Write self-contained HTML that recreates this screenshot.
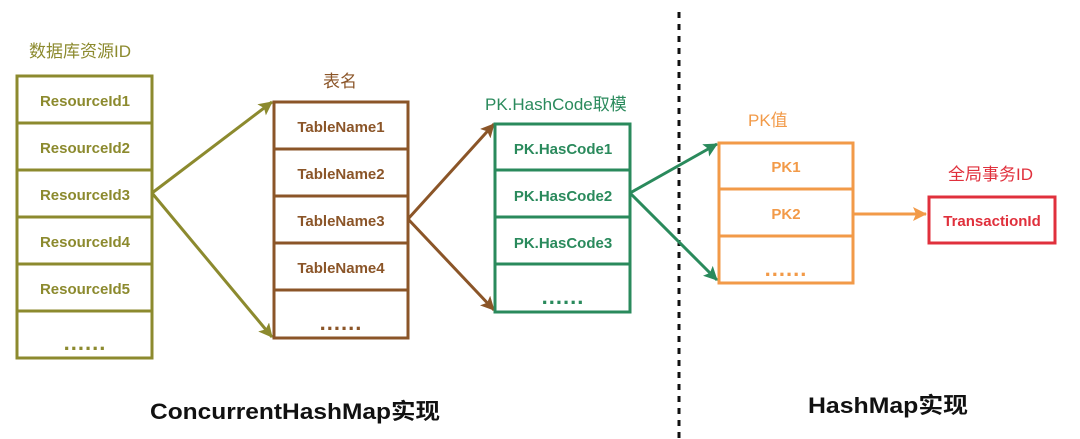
<!DOCTYPE html>
<html><head><meta charset="utf-8"><style>
html,body{margin:0;padding:0;background:#fff;width:1080px;height:439px;overflow:hidden}
text{font-family:"Liberation Sans","Noto Sans CJK SC",sans-serif}
</style></head><body>
<svg width="1080" height="439" viewBox="0 0 1080 439" xmlns="http://www.w3.org/2000/svg">
<defs>
<marker id="ao" markerWidth="14" markerHeight="14" refX="13" refY="7" orient="auto" markerUnits="userSpaceOnUse"><path d="M0,0 L14,7 L0,14 L3,7 z" fill="#8c8a2e"/></marker>
<marker id="ab" markerWidth="14" markerHeight="14" refX="13" refY="7" orient="auto" markerUnits="userSpaceOnUse"><path d="M0,0 L14,7 L0,14 L3,7 z" fill="#8b5528"/></marker>
<marker id="ag" markerWidth="14" markerHeight="14" refX="13" refY="7" orient="auto" markerUnits="userSpaceOnUse"><path d="M0,0 L14,7 L0,14 L3,7 z" fill="#2a8a5c"/></marker>
<marker id="ar" markerWidth="14" markerHeight="14" refX="13" refY="7" orient="auto" markerUnits="userSpaceOnUse"><path d="M0,0 L14,7 L0,14 L3,7 z" fill="#f29a48"/></marker>
</defs>
<line x1="679" y1="12" x2="679" y2="439" stroke="#111" stroke-width="3" stroke-dasharray="6,6"/>
<!-- Resource -->
<text x="29" y="57" font-size="17" fill="#8c8a2e">数据库资源ID</text>
<g stroke="#8c8a2e" stroke-width="3" fill="none">
<rect x="17" y="76" width="135" height="282"/>
<line x1="17" y1="123" x2="152" y2="123"/><line x1="17" y1="170" x2="152" y2="170"/><line x1="17" y1="217" x2="152" y2="217"/><line x1="17" y1="264" x2="152" y2="264"/><line x1="17" y1="311" x2="152" y2="311"/>
<line x1="152" y1="193" x2="272" y2="102" marker-end="url(#ao)"/>
<line x1="152" y1="193" x2="272" y2="337" marker-end="url(#ao)"/>
</g>
<g font-size="15" font-weight="bold" fill="#8c8a2e" text-anchor="middle">
<text x="85" y="106">ResourceId1</text><text x="85" y="153">ResourceId2</text><text x="85" y="200">ResourceId3</text><text x="85" y="247">ResourceId4</text><text x="85" y="294">ResourceId5</text><text x="85" y="350" font-size="22" letter-spacing="1">......</text>
</g>
<!-- Table -->
<text x="323" y="87" font-size="17" fill="#8b5528">表名</text>
<g stroke="#8b5528" stroke-width="3" fill="none">
<rect x="274" y="102" width="134" height="236"/>
<line x1="274" y1="149" x2="408" y2="149"/><line x1="274" y1="196" x2="408" y2="196"/><line x1="274" y1="243" x2="408" y2="243"/><line x1="274" y1="290" x2="408" y2="290"/>
<line x1="408" y1="219" x2="494" y2="124" marker-end="url(#ab)"/>
<line x1="408" y1="219" x2="494" y2="310" marker-end="url(#ab)"/>
</g>
<g font-size="15" font-weight="bold" fill="#8b5528" text-anchor="middle">
<text x="341" y="132">TableName1</text><text x="341" y="179">TableName2</text><text x="341" y="226">TableName3</text><text x="341" y="273">TableName4</text><text x="341" y="330" font-size="22" letter-spacing="1">......</text>
</g>
<!-- Hash -->
<text x="485" y="110" font-size="17" fill="#2a8a5c">PK.HashCode取模</text>
<g stroke="#2a8a5c" stroke-width="3" fill="none">
<rect x="495" y="124" width="135" height="188"/>
<line x1="495" y1="170" x2="630" y2="170"/><line x1="495" y1="217" x2="630" y2="217"/><line x1="495" y1="264" x2="630" y2="264"/>
<line x1="630" y1="193" x2="717" y2="144" marker-end="url(#ag)"/>
<line x1="630" y1="193" x2="717" y2="280" marker-end="url(#ag)"/>
</g>
<g font-size="15" font-weight="bold" fill="#2a8a5c" text-anchor="middle">
<text x="563" y="154">PK.HasCode1</text><text x="563" y="201">PK.HasCode2</text><text x="563" y="248">PK.HasCode3</text><text x="563" y="304" font-size="22" letter-spacing="1">......</text>
</g>
<!-- PK -->
<text x="748" y="126" font-size="17" fill="#f29a48">PK值</text>
<g stroke="#f29a48" stroke-width="3" fill="none">
<rect x="719" y="143" width="134" height="140"/>
<line x1="719" y1="189" x2="853" y2="189"/><line x1="719" y1="236" x2="853" y2="236"/>
<line x1="853" y1="214" x2="926" y2="214" marker-end="url(#ar)"/>
</g>
<g font-size="15" font-weight="bold" fill="#f29a48" text-anchor="middle">
<text x="786" y="172">PK1</text><text x="786" y="219">PK2</text><text x="786" y="276" font-size="22" letter-spacing="1">......</text>
</g>
<!-- Transaction -->
<text x="948" y="180" font-size="17" fill="#e0303c">全局事务ID</text>
<rect x="929" y="197" width="126" height="46" stroke="#e0303c" stroke-width="3" fill="none"/>
<text x="992" y="226" font-size="15" font-weight="bold" fill="#e0303c" text-anchor="middle">TransactionId</text>
<!-- bottom -->
<text x="150" y="419" font-size="22" font-weight="bold" fill="#111" textLength="290" lengthAdjust="spacingAndGlyphs">ConcurrentHashMap实现</text>
<text x="808" y="413" font-size="22" font-weight="bold" fill="#111" textLength="160" lengthAdjust="spacingAndGlyphs">HashMap实现</text>
</svg>
</body></html>
